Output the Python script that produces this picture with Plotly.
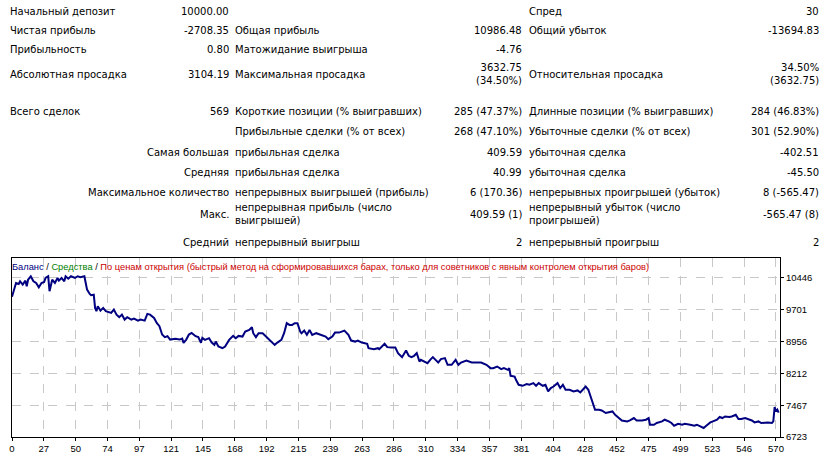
import plotly.graph_objects as go

# balance curve (trade number, balance)
trade_no = [0, 2, 3, 5, 6, 8, 10, 11, 12, 14, 16, 18, 20, 22, 24, 25, 27, 28, 30, 32,
            34, 35, 37, 39, 40, 42, 44, 47, 49, 51, 54, 55, 56, 58, 59, 61, 62, 63, 64, 66,
            68, 70, 74, 76, 78, 80, 82, 84, 86, 89, 91, 94, 96, 99, 101, 103, 106, 108, 110, 112,
            114, 116, 118, 122, 125, 127, 128, 130, 132, 134, 137, 139, 141, 142, 144, 147, 149, 151, 152, 154,
            157, 159, 162, 165, 167, 169, 172, 174, 177, 179, 180, 182, 184, 187, 189, 191, 194, 196, 198, 201,
            203, 204, 205, 207, 209, 211, 213, 215, 216, 218, 220, 222, 224, 227, 230, 234, 236, 239, 241, 244,
            246, 248, 251, 253, 256, 258, 261, 265, 266, 270, 273, 274, 278, 280, 283, 286, 288, 291, 294, 296,
            298, 300, 302, 304, 305, 308, 310, 312, 314, 316, 318, 320, 323, 325, 328, 331, 333, 335, 339, 343,
            346, 350, 354, 357, 359, 362, 365, 367, 370, 371, 372, 375, 376, 378, 381, 384, 386, 389, 391, 393,
            396, 398, 400, 402, 404, 407, 409, 411, 413, 416, 419, 422, 424, 426, 428, 430, 432, 434, 435, 438,
            440, 443, 445, 448, 450, 453, 455, 459, 461, 464, 466, 470, 473, 475, 476, 479, 481, 485, 487, 490,
            492, 494, 497, 500, 502, 506, 509, 511, 514, 516, 518, 521, 523, 526, 528, 530, 532, 535, 537, 540,
            542, 544, 547, 549, 552, 554, 557, 559, 562, 564, 567, 568, 569, 570, 571, 572]
balance = [10000, 10208, 10324, 10301, 10364, 10285, 10378, 10247, 10401, 10481, 10364, 10324, 10224, 10324, 10348, 10441, 10481, 10131, 10401, 10324,
           10441, 10378, 10441, 10364, 10481, 10425, 10481, 10441, 10481, 10457, 10481, 10324, 10168, 10068, 10037, 10051, 9741, 9664, 9781, 9678,
           9741, 9664, 9624, 9701, 9584, 9524, 9584, 9468, 9524, 9468, 9491, 9444, 9468, 9444, 9601, 9584, 9507, 9391, 9314, 9118,
           9057, 9080, 9001, 9017, 9001, 9024, 8924, 9001, 9118, 9157, 9080, 9057, 8924, 9041, 8994, 9034, 8931, 8877, 8954, 8838,
           8800, 8838, 8994, 9087, 9034, 9087, 9071, 9188, 9227, 9290, 9150, 9057, 9150, 9150, 9087, 9034, 8954, 8877, 8931, 8994,
           9150, 9267, 9384, 9344, 9344, 9384, 9384, 9188, 9150, 9211, 9111, 9227, 9111, 9150, 9111, 9071, 9010, 9071, 9164, 9164,
           9188, 9211, 9111, 8978, 8954, 8978, 8931, 8901, 8800, 8777, 8800, 8777, 8901, 8824, 8814, 8814, 8684, 8590, 8744, 8621,
           8590, 8621, 8684, 8488, 8527, 8488, 8450, 8527, 8590, 8527, 8464, 8544, 8567, 8410, 8410, 8527, 8410, 8464, 8511, 8464,
           8464, 8464, 8410, 8333, 8333, 8371, 8310, 8333, 8294, 8333, 8154, 8137, 8060, 7944, 7920, 7960, 7944, 7983, 7920, 7983,
           7920, 7944, 7787, 7867, 7904, 7983, 7867, 7944, 7827, 7827, 7787, 7811, 7764, 7827, 7904, 7827, 7633, 7477, 7360, 7360,
           7344, 7283, 7297, 7321, 7243, 7166, 7110, 7087, 7110, 7166, 7110, 7110, 7127, 7166, 7010, 7010, 7050, 7087, 7127, 7087,
           7050, 6987, 7033, 7010, 7033, 7010, 6987, 7010, 6970, 6933, 6987, 7064, 7087, 7127, 7190, 7166, 7204, 7190, 7204, 7243,
           7143, 7143, 7166, 7143, 7110, 7064, 7087, 7050, 7064, 7064, 7050, 7087, 7423, 7321, 7360, 7292]

y_ticks = [6723, 7467, 8212, 8956, 9701, 10446]
x_labels = ["0", "27", "50", "74", "97", "121", "145", "168", "192", "215", "239", "263", "286",
            "310", "334", "357", "381", "404", "428", "452", "475", "499", "523", "546", "570"]

# report table, one entry per row
c1_text = ["Начальный депозит", "Чистая прибыль", "Прибыльность", "Абсолютная просадка", "Всего сделок",
           "", "Самая большая", "Средняя", "Максимальное количество", "Макс.", "Средний"]
c1_val = ["10000.00", "-2708.35", "0.80", "3104.19", "569", "", "", "", "", "", ""]
c2_text = ["", "Общая прибыль", "Матожидание выигрыша", "Максимальная просадка",
           "Короткие позиции (% выигравших)", "Прибыльные сделки (% от всех)", "прибыльная сделка",
           "прибыльная сделка", "непрерывных выигрышей (прибыль)", "непрерывная прибыль (число<br>выигрышей)",
           "непрерывный выигрыш"]
c2_val = ["", "10986.48", "-4.76", "3632.75<br>(34.50%)", "285 (47.37%)", "268 (47.10%)", "409.59",
          "40.99", "6 (170.36)", "409.59 (1)", "2"]
c3_text = ["Спред", "Общий убыток", "", "Относительная просадка", "Длинные позиции (% выигравших)",
           "Убыточные сделки (% от всех)", "убыточная сделка", "убыточная сделка",
           "непрерывных проигрышей (убыток)", "непрерывный убыток (число<br>проигрышей)", "непрерывный проигрыш"]
c3_val = ["30", "-13694.83", "", "34.50%<br>(3632.75)", "284 (46.83%)", "301 (52.90%)", "-402.51",
          "-45.50", "8 (-565.47)", "-565.47 (8)", "2"]

row_y = [10, 29, 48, 73, 111, 131, 152, 172, 192, 214, 242]

W, H = 838, 463
L, R, T, B = 9, 780, 258, 438

def ax(px):
    return (px - L) / (R - L)

def ay(py):
    return (B - py) / (B - T)

FONT = "DejaVu Sans"
SMALL = "Liberation Sans"
anns = []

def add(text, px, py, anchor, size=10, color="black", family=FONT):
    if not text:
        return
    # annotations carry a few px of padding on the left
    if anchor == "left":
        px -= 3
    anns.append(dict(text=text, x=ax(px), y=ay(py), xref="paper", yref="paper",
                     xanchor=anchor, yanchor="middle", align=anchor, showarrow=False,
                     borderpad=0, font=dict(family=family, size=size, color=color)))

for i, y in enumerate(row_y):
    if i < 5:
        add(c1_text[i], 9, y, "left")
    else:
        add(c1_text[i], 228, y, "right")
    add(c1_val[i], 228, y, "right")
    add(c2_text[i], 235, y, "left")
    add(c2_val[i], 522, y, "right")
    add(c3_text[i], 530, y, "left")
    add(c3_val[i], 820, y, "right")

add('<span style="color:#000080">Баланс</span> / <span style="color:#008000">Средства</span> / '
    '<span style="color:#cc0000">По ценам открытия (быстрый метод на сформировавшихся барах, '
    'только для советников с явным контролем открытия баров)</span>', 11, 267, "left",
    size=9.3, family=SMALL)

fig = go.Figure(go.Scatter(x=trade_no, y=balance, mode="lines",
                           line=dict(color="#000080", width=2), hoverinfo="x+y"))

step = 570 / (len(x_labels) - 1)
fig.update_xaxes(range=[0, 573], tickvals=[k * step for k in range(len(x_labels))], ticktext=x_labels,
                 showgrid=True, gridcolor="#c8c8c8", griddash="dash", gridwidth=1,
                 showline=True, mirror=True, linecolor="black", linewidth=1,
                 ticks="outside", ticklen=3, tickcolor="black", zeroline=False,
                 tickfont=dict(family=SMALL, size=9.5, color="black"))
fig.update_yaxes(range=[6723, 10908], tickvals=y_ticks, tickformat="d", side="right",
                 showgrid=True, gridcolor="#c8c8c8", griddash="dash", gridwidth=1,
                 showline=True, mirror=True, linecolor="black", linewidth=1,
                 ticks="outside", ticklen=3, tickcolor="black", zeroline=False,
                 tickfont=dict(family=SMALL, size=9.5, color="black"))
fig.update_layout(width=W, height=H, margin=dict(l=L, r=W - R, t=T, b=H - B),
                  paper_bgcolor="white", plot_bgcolor="white", showlegend=False,
                  annotations=anns, font=dict(family=FONT))

# page has a default body margin; drop it so the figure sits at 0,0
fig.write_html("out.html", config={"displayModeBar": False},
               post_script="document.body.style.margin='0';")
